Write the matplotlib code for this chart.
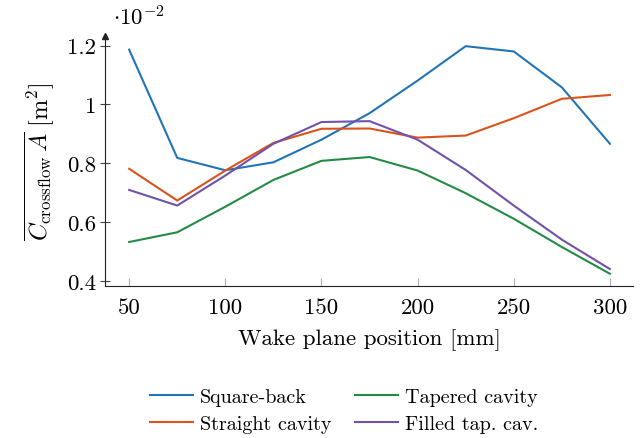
import numpy as np
from matplotlib import pyplot as plt

plt.rcParams['font.family'] = 'serif'
plt.rcParams['font.serif'] = ['cmr10', 'DejaVu Serif']
plt.rcParams['mathtext.fontset'] = 'cm'

# wake plane positions [mm]
pos = [50, 75, 100, 125, 150, 175, 200, 225, 250, 275, 300]

# mean crossflow C*A, in units of 1e-2 m^2
square_back = [1.186, 0.818, 0.776, 0.803, 0.88, 0.97, 1.081, 1.198, 1.18, 1.058, 0.866]
straight_cav = [0.781, 0.673, 0.775, 0.869, 0.917, 0.918, 0.887, 0.894, 0.953, 1.019, 1.032]
tapered_cav = [0.532, 0.565, 0.652, 0.743, 0.808, 0.821, 0.775, 0.698, 0.611, 0.515, 0.424]
filled_tap = [0.709, 0.656, 0.758, 0.866, 0.94, 0.943, 0.88, 0.777, 0.656, 0.54, 0.44]

names = ['Square-back', 'Straight cavity', 'Tapered cavity', 'Filled tap. cav.']
colors = ['#2274b5', '#d9541a', '#238b45', '#7052a8']

xticks = [50, 100, 150, 200, 250, 300]
yticks = [0.4, 0.6, 0.8, 1.0, 1.2]
ytick_labels = ['0.4', '0.6', '0.8', '1', '1.2']

fig = plt.figure(figsize=(6.41, 4.39), dpi=100)
ax = fig.add_axes([0.164, 0.346, 0.8235, 0.57])

for ys, name, c in zip([square_back, straight_cav, tapered_cav, filled_tap], names, colors):
    ax.plot(pos, ys, '-', color=c, lw=1.5, label=name)

ax.set_xlim(37.5, 312)
ax.set_ylim(0.382, 1.233)

for s in ['top', 'right']:
    ax.spines[s].set_visible(False)
for s in ['left', 'bottom']:
    ax.spines[s].set_color('#222222')
    ax.spines[s].set_linewidth(0.8)
# arrow tip on the y axis
ax.plot(0, 1, '^', transform=ax.transAxes, color='#222222', ms=4, clip_on=False)

ax.set_xticks(xticks)
ax.set_xticklabels([str(t) for t in xticks])
ax.set_yticks(yticks)
ax.set_yticklabels(ytick_labels)
ax.tick_params(axis='x', direction='in', length=6, color='#aaaaaa', labelsize=16.5, pad=8)
ax.tick_params(axis='y', direction='inout', length=7, color='#444444', labelsize=16.5, pad=3)

ax.text(0.015, 1.03, r'$\cdot 10^{-2}$', transform=ax.transAxes, fontsize=16.5, va='bottom')

ax.set_xlabel('Wake plane position [mm]', fontsize=16.5, labelpad=8)
ax.set_ylabel(r'$\overline{C_{\mathrm{crossflow}}\,A}\ [\mathrm{m}^2]$', fontsize=17.5, labelpad=8)

fig.legend(loc='center', bbox_to_anchor=(0.537, 0.063), ncol=2, frameon=False,
           fontsize=14.5, handlelength=2.1, handletextpad=0.35, columnspacing=1.2,
           labelspacing=0.45)

fig.savefig('out.png', dpi=100)
